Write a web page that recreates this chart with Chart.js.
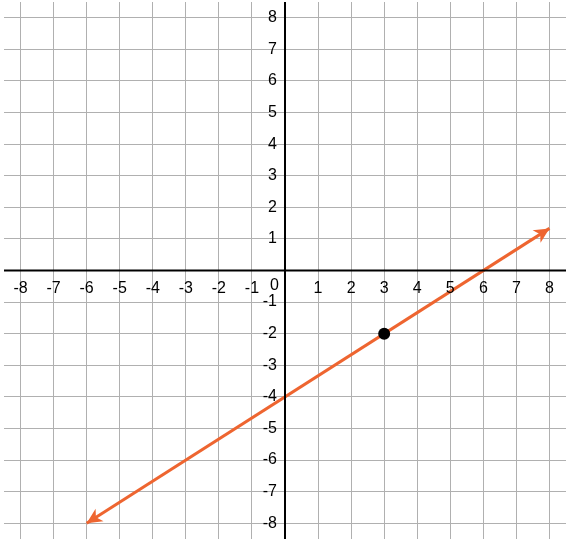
<!DOCTYPE html><html><head><script src="https://cdn.jsdelivr.net/npm/chart.js@4"></script>
<style>html,body{margin:0;background:#fff}#w{width:566px;height:542px}</style></head><body><div id="w"><canvas id="c"></canvas></div>
<script>
const tickValues=[-8,-7,-6,-5,-4,-3,-2,-1,0,1,2,3,4,5,6,7,8];
const lineX=[-6,8];
const lineY=[-8,4/3];
const pointXY=[3,-2];
const axisPlugin={id:'ax',afterDraw(ch){
 const c=ch.ctx,xs=ch.scales.x,ys=ch.scales.y;
 const x0=xs.getPixelForValue(0),y0=ys.getPixelForValue(0);
 c.save();c.strokeStyle='#000';c.lineWidth=2;
 c.beginPath();c.moveTo(ch.chartArea.left,y0);c.lineTo(ch.chartArea.right,y0);
 c.moveTo(x0,ch.chartArea.top);c.lineTo(x0,ch.chartArea.bottom);c.stroke();
 c.fillStyle='#000';c.font='16px "Liberation Sans", Arial';
 tickValues.forEach(v=>{
  if(v!==0){c.textAlign='center';c.textBaseline='top';c.fillText(String(v),xs.getPixelForValue(v),y0+10);
   c.textAlign='right';c.textBaseline='middle';c.fillText(String(v),x0-8,ys.getPixelForValue(v));}
 });
 c.textAlign='right';c.textBaseline='top';c.fillText('0',x0-6,y0+7);
 c.strokeStyle='#ee6530';c.fillStyle='#ee6530';
 const p1=[xs.getPixelForValue(lineX[0]),ys.getPixelForValue(lineY[0])],p2=[xs.getPixelForValue(lineX[1]),ys.getPixelForValue(lineY[1])];
 [[p1,p2],[p2,p1]].forEach(([a,b])=>{const ang=Math.atan2(a[1]-b[1],a[0]-b[0]);
  c.beginPath();c.moveTo(a[0],a[1]);
  c.lineTo(a[0]-17*Math.cos(ang-0.45),a[1]-17*Math.sin(ang-0.45));
  c.lineTo(a[0]-11*Math.cos(ang),a[1]-11*Math.sin(ang));
  c.lineTo(a[0]-17*Math.cos(ang+0.45),a[1]-17*Math.sin(ang+0.45));c.closePath();c.fill();});
 c.restore();
 const pm=ch.getDatasetMeta(1).data[0];c.save();c.fillStyle='#000';c.beginPath();c.arc(pm.x,pm.y,6,0,Math.PI*2);c.fill();c.restore();
}};
const scaleOpt=()=>({type:'linear',min:-8.5,max:8.5,afterBuildTicks:s=>{s.ticks=tickValues.map(v=>({value:v}))},
 ticks:{display:false},grid:{color:'#b0b0b0',lineWidth:1,drawTicks:false},border:{display:false}});
new Chart(document.getElementById('c'),{type:'scatter',
 data:{datasets:[
  {data:[{x:lineX[0],y:lineY[0]},{x:lineX[1],y:lineY[1]}],showLine:true,borderColor:'#ee6530',borderWidth:3,pointRadius:0},
  {data:[{x:pointXY[0],y:pointXY[1]}],pointRadius:0,backgroundColor:'#000'}]},
 options:{responsive:true,maintainAspectRatio:false,animation:false,layout:{padding:{left:4,right:0,top:2,bottom:3}},
  plugins:{legend:{display:false},tooltip:{enabled:false}},
  scales:{x:scaleOpt(),y:scaleOpt()}},
 plugins:[axisPlugin]});
</script></body></html>
